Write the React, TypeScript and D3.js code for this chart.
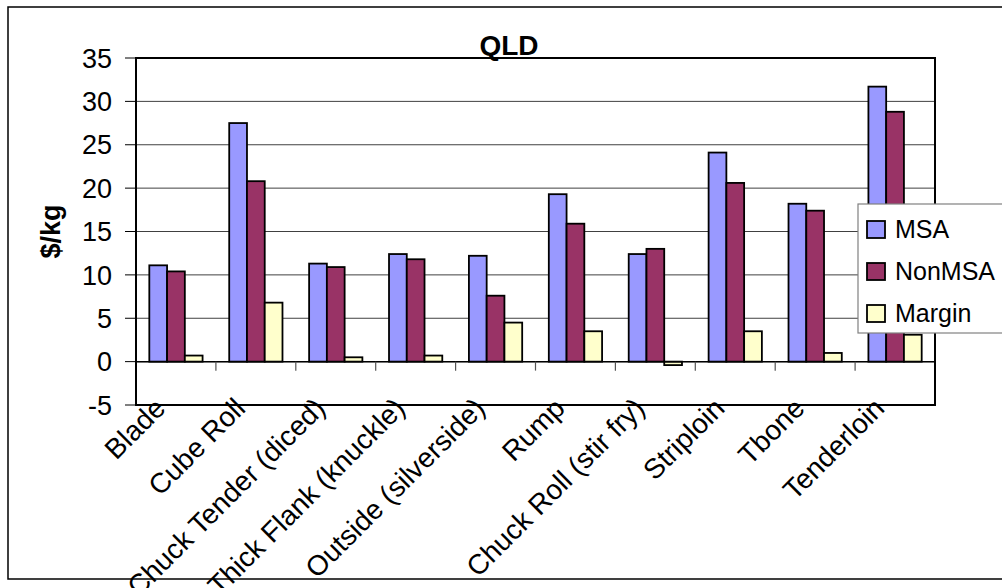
import React from "react";
import * as d3 from "d3";

// Retail price per kg by primal cut, QLD
const categories = [
  "Blade",
  "Cube Roll",
  "Chuck Tender (diced)",
  "Thick Flank (knuckle)",
  "Outside (silverside)",
  "Rump",
  "Chuck Roll (stir fry)",
  "Striploin",
  "Tbone",
  "Tenderloin",
];
const msa = [11.1, 27.5, 11.3, 12.4, 12.2, 19.3, 12.4, 24.1, 18.2, 31.7];
const nonMsa = [10.4, 20.8, 10.9, 11.8, 7.6, 15.9, 13.0, 20.6, 17.4, 28.8];
const margin = [0.7, 6.8, 0.5, 0.7, 4.5, 3.5, -0.4, 3.5, 1.0, 3.1];

const seriesNames = ["MSA", "NonMSA", "Margin"];
const seriesColors = ["#9999FF", "#993366", "#FFFFCC"];
const seriesValues = [msa, nonMsa, margin];
const yTicks = [-5, 0, 5, 10, 15, 20, 25, 30, 35];

const W = 1002;
const H = 588;
const plot = { left: 136, right: 935, top: 58, bottom: 405 };
const FONT = "'Liberation Sans', Arial, sans-serif";

export default function App() {
  const x = d3
    .scaleBand<string>()
    .domain(categories)
    .range([plot.left, plot.right])
    .paddingInner(0)
    .paddingOuter(0);
  const step = x.step();
  // Excel-style 150% gap width: three bars share step / 4.5 each
  const barW = step / 4.5;
  const groupOffset = (step - 3 * barW) / 2;
  const xs = d3
    .scaleBand<string>()
    .domain(seriesNames)
    .range([0, 3 * barW])
    .padding(0);

  const y = d3.scaleLinear().domain([-5, 35]).range([plot.bottom, plot.top]);
  const y0 = y(0);

  const bars: React.ReactNode[] = [];
  seriesValues.forEach((vals, si) => {
    vals.forEach((v, ci) => {
      const bx = (x(categories[ci]) as number) + groupOffset + (xs(seriesNames[si]) as number);
      const top = Math.min(y(v), y0);
      const h = Math.abs(y(v) - y0);
      bars.push(
        <rect
          key={`b-${si}-${ci}`}
          x={bx}
          y={top}
          width={xs.bandwidth()}
          height={h}
          fill={seriesColors[si]}
          stroke="#000"
          strokeWidth={1.8}
        />
      );
    });
  });

  return (
    <svg
      width={W}
      height={H}
      style={{ position: "absolute", left: 0, top: 0, display: "block", background: "#fff" }}
      fontFamily={FONT}
    >
      {/* chart area frame */}
      <rect x={8} y={7} width={1100} height={572} fill="#fff" stroke="#000" strokeWidth={1.5} />

      {/* title */}
      <text x={509} y={55} textAnchor="middle" fontSize={28} fontWeight="bold">
        QLD
      </text>

      {/* gridlines */}
      {yTicks
        .filter((t) => t !== -5 && t !== 35)
        .map((t) => (
          <line
            key={`g-${t}`}
            x1={plot.left}
            x2={plot.right}
            y1={y(t)}
            y2={y(t)}
            stroke="#404040"
            strokeWidth={1}
          />
        ))}

      {/* plot border */}
      <rect
        x={plot.left}
        y={plot.top}
        width={plot.right - plot.left}
        height={plot.bottom - plot.top}
        fill="none"
        stroke="#000"
        strokeWidth={2}
      />

      {/* value axis ticks and labels */}
      {yTicks.map((t) => (
        <g key={`yt-${t}`}>
          <line x1={plot.left - 11} x2={plot.left} y1={y(t)} y2={y(t)} stroke="#000" strokeWidth={1} />
          <text x={112} y={y(t)} dy="0.36em" textAnchor="end" fontSize={27}>
            {t}
          </text>
        </g>
      ))}

      {/* axis title */}
      <text
        transform={`translate(60,${(plot.top + plot.bottom) / 2}) rotate(-90)`}
        textAnchor="middle"
        fontSize={27}
        fontWeight="bold"
      >
        $/kg
      </text>

      {bars}

      {/* category axis at zero */}
      <line x1={plot.left} x2={plot.right} y1={y0} y2={y0} stroke="#000" strokeWidth={1.5} />
      {categories.slice(1).map((c) => (
        <line
          key={`xt-${c}`}
          x1={x(c) as number}
          x2={x(c) as number}
          y1={y0}
          y2={y0 + 9}
          stroke="#555"
          strokeWidth={1.2}
        />
      ))}

      {/* category labels */}
      {categories.map((c) => {
        const cx = (x(c) as number) + step / 2;
        return (
          <text
            key={`xl-${c}`}
            transform={`translate(${cx - 9},${plot.bottom + 5}) rotate(-45)`}
            textAnchor="end"
            fontSize={28}
          >
            {c}
          </text>
        );
      })}

      {/* legend */}
      <rect x={858} y={204} width={200} height={129} fill="#fff" stroke="#808080" strokeWidth={1.2} />
      {seriesNames.map((s, i) => {
        const sy = 221 + i * 42;
        return (
          <g key={`lg-${s}`}>
            <rect x={867} y={sy} width={18} height={17} fill={seriesColors[i]} stroke="#000" strokeWidth={1.8} />
            <text x={895} y={sy + 17} fontSize={25}>
              {s}
            </text>
          </g>
        );
      })}
    </svg>
  );
}
